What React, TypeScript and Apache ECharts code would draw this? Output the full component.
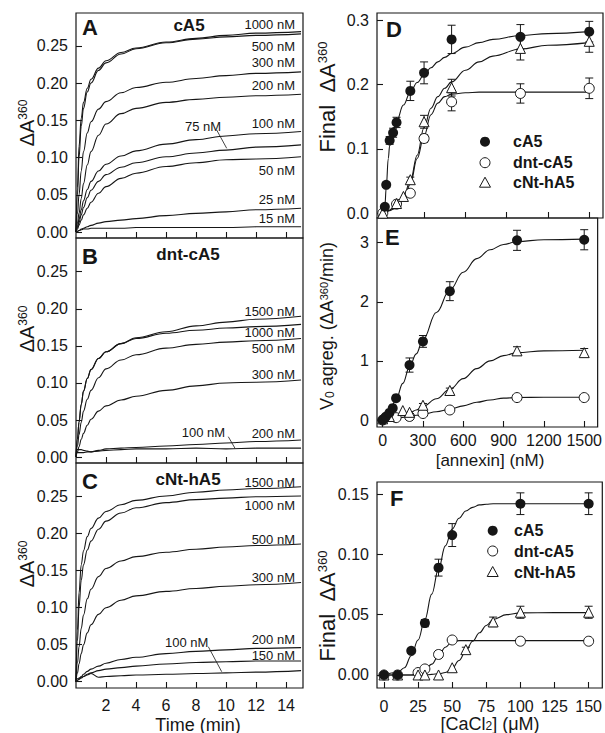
import React, { useEffect, useRef } from 'react';
import * as echarts from 'echarts';

const FONT = '"Liberation Sans", Arial, Helvetica, sans-serif';
const INK = '#161616';

// ---------- Panels A-C : kinetic traces ----------
const TIME = [0, 0.1, 0.2, 0.35, 0.5, 0.75, 1, 1.5, 2, 3, 4, 6, 8, 10, 12, 15];

const A1000 = [0, 0.06, 0.115, 0.153, 0.174, 0.193, 0.205, 0.22, 0.23, 0.241, 0.247, 0.255, 0.26, 0.264, 0.267, 0.269];
const A500 = [0, 0.05, 0.1, 0.142, 0.166, 0.188, 0.2, 0.217, 0.227, 0.239, 0.246, 0.254, 0.259, 0.262, 0.264, 0.266];
const A300 = [0, 0.025, 0.05, 0.082, 0.108, 0.133, 0.148, 0.165, 0.175, 0.187, 0.194, 0.201, 0.206, 0.21, 0.213, 0.215];
const A200 = [0, 0.012, 0.025, 0.045, 0.065, 0.09, 0.108, 0.13, 0.145, 0.159, 0.166, 0.174, 0.178, 0.181, 0.183, 0.185];
const A100 = [0, 0.008, 0.017, 0.03, 0.042, 0.057, 0.068, 0.082, 0.091, 0.102, 0.109, 0.118, 0.124, 0.129, 0.132, 0.135];
const A75 = [0, 0.006, 0.013, 0.023, 0.033, 0.046, 0.056, 0.068, 0.077, 0.087, 0.093, 0.101, 0.106, 0.11, 0.114, 0.117];
const A50 = [0, 0.004, 0.009, 0.016, 0.023, 0.032, 0.04, 0.052, 0.061, 0.072, 0.079, 0.088, 0.093, 0.097, 0.098, 0.101];
const A25 = [0, 0.001, 0.002, 0.004, 0.005, 0.007, 0.009, 0.012, 0.014, 0.016, 0.018, 0.022, 0.025, 0.027, 0.03, 0.032];
const A15 = [0, 0.001, 0.002, 0.003, 0.004, 0.004, 0.005, 0.005, 0.005, 0.005, 0.006, 0.006, 0.006, 0.006, 0.007, 0.007];

const B1500 = [0, 0.025, 0.047, 0.071, 0.089, 0.106, 0.118, 0.133, 0.142, 0.153, 0.161, 0.169, 0.177, 0.182, 0.186, 0.19];
const B1000 = [0, 0.025, 0.047, 0.071, 0.089, 0.106, 0.118, 0.133, 0.142, 0.153, 0.16, 0.167, 0.171, 0.174, 0.176, 0.179];
const B500 = [0, 0.015, 0.03, 0.047, 0.062, 0.078, 0.09, 0.107, 0.119, 0.131, 0.138, 0.147, 0.152, 0.155, 0.157, 0.16];
const B300 = [0, 0.007, 0.014, 0.024, 0.032, 0.043, 0.051, 0.062, 0.069, 0.077, 0.082, 0.09, 0.096, 0.1, 0.101, 0.104];
const B200 = [0.01, 0.01, 0.01, 0.01, 0.009, 0.008, 0.007, 0.009, 0.011, 0.012, 0.013, 0.015, 0.017, 0.019, 0.021, 0.023];
const B100 = [0.006, 0.006, 0.006, 0.006, 0.006, 0.007, 0.007, 0.008, 0.009, 0.01, 0.011, 0.011, 0.012, 0.011, 0.012, 0.012];

const C1500 = [0, 0.07, 0.12, 0.158, 0.177, 0.196, 0.207, 0.221, 0.23, 0.239, 0.245, 0.251, 0.256, 0.259, 0.261, 0.2635];
const C1000 = [0, 0.055, 0.1, 0.137, 0.158, 0.178, 0.19, 0.206, 0.217, 0.228, 0.235, 0.242, 0.246, 0.248, 0.25, 0.251];
const C500 = [0, 0.025, 0.047, 0.072, 0.09, 0.112, 0.125, 0.142, 0.153, 0.163, 0.169, 0.175, 0.179, 0.182, 0.184, 0.186];
const C300 = [0, 0.012, 0.024, 0.038, 0.05, 0.066, 0.077, 0.091, 0.1, 0.11, 0.116, 0.122, 0.126, 0.129, 0.131, 0.134];
const C200 = [0, 0.002, 0.004, 0.007, 0.01, 0.014, 0.017, 0.021, 0.025, 0.03, 0.033, 0.038, 0.041, 0.043, 0.045, 0.046];
const C150 = [0, 0.002, 0.003, 0.005, 0.007, 0.01, 0.012, 0.015, 0.017, 0.019, 0.021, 0.024, 0.026, 0.027, 0.028, 0.028];
const C100 = [0.004, 0.004, 0.005, 0.006, 0.007, 0.009, 0.011, 0.006, 0.007, 0.008, 0.009, 0.01, 0.011, 0.012, 0.013, 0.015];

const TIME_TICKS = [2, 4, 6, 8, 10, 12, 14];
const ABS_TICKS = [0, 0.05, 0.1, 0.15, 0.2, 0.25];

// ---------- Panel D : final ΔA360 vs [annexin] ----------
const D_CA5_X = [15, 25, 50, 75, 100, 200, 300, 500, 1000, 1500];
const D_CA5_Y = [0.01, 0.044, 0.113, 0.125, 0.141, 0.19, 0.218, 0.27, 0.274, 0.282];
const D_CA5_E = [0.003, 0.004, 0.006, 0.007, 0.008, 0.015, 0.017, 0.022, 0.019, 0.016];
const D_DNT_X = [0, 100, 200, 300, 500, 1000, 1500];
const D_DNT_Y = [0, 0.014, 0.031, 0.116, 0.173, 0.186, 0.194];
const D_DNT_E = [0, 0, 0.004, 0.006, 0.014, 0.015, 0.016];
const D_CNT_X = [0, 100, 150, 200, 300, 500, 1000, 1500];
const D_CNT_Y = [0, 0.015, 0.026, 0.052, 0.142, 0.195, 0.256, 0.267];
const D_CNT_E = [0, 0, 0, 0.004, 0.01, 0.013, 0.018, 0.017];

const D_FIT_X = [0, 15, 25, 40, 50, 75, 100, 150, 200, 250, 300, 350, 400, 450, 500, 600, 700, 800, 1000, 1200, 1500];
const D_FIT_CA5 = [0, 0.01, 0.04, 0.085, 0.105, 0.128, 0.143, 0.168, 0.188, 0.203, 0.215, 0.226, 0.235, 0.242, 0.248, 0.258, 0.265, 0.27, 0.276, 0.279, 0.282];
const D_FIT_DNT = [0, 0.001, 0.002, 0.003, 0.004, 0.006, 0.009, 0.02, 0.045, 0.085, 0.12, 0.153, 0.171, 0.181, 0.185, 0.187, 0.188, 0.188, 0.188, 0.188, 0.188];
const D_FIT_CNT = [0, 0.001, 0.002, 0.004, 0.005, 0.008, 0.012, 0.025, 0.05, 0.09, 0.133, 0.163, 0.181, 0.194, 0.204, 0.222, 0.235, 0.244, 0.255, 0.261, 0.265];

// ---------- Panel E : V0 vs [annexin] ----------
const E_CA5_X = [0, 15, 25, 50, 75, 100, 200, 300, 500, 1000, 1500];
const E_CA5_Y = [0, 0.03, 0.06, 0.12, 0.2, 0.37, 0.93, 1.33, 2.18, 3.04, 3.05];
const E_CA5_E = [0, 0, 0, 0.02, 0.03, 0.04, 0.12, 0.1, 0.16, 0.17, 0.17];
const E_DNT_X = [0, 100, 200, 300, 500, 1000, 1500];
const E_DNT_Y = [0, 0.04, 0.06, 0.11, 0.17, 0.38, 0.38];
const E_DNT_E = [0, 0, 0, 0, 0, 0.02, 0.02];
const E_CNT_X = [0, 50, 150, 200, 300, 500, 1000, 1500];
const E_CNT_Y = [0.02, 0.06, 0.16, 0.13, 0.25, 0.5, 1.17, 1.14];
const E_CNT_E = [0, 0, 0, 0, 0.03, 0.04, 0.07, 0.07];

const E_FIT_X = [0, 50, 100, 150, 200, 250, 300, 400, 500, 600, 700, 800, 900, 1000, 1200, 1500];
const E_FIT_CA5 = [0, 0.13, 0.35, 0.62, 0.9, 1.12, 1.36, 1.82, 2.2, 2.5, 2.73, 2.88, 2.97, 3.02, 3.05, 3.06];
const E_FIT_CNT = [0, 0.02, 0.05, 0.08, 0.12, 0.17, 0.23, 0.36, 0.52, 0.7, 0.87, 1.0, 1.09, 1.14, 1.17, 1.18];
const E_FIT_DNT = [0, 0.015, 0.03, 0.045, 0.06, 0.08, 0.1, 0.14, 0.18, 0.24, 0.3, 0.34, 0.37, 0.38, 0.385, 0.385];

const ANNEXIN_TICKS = [0, 300, 600, 900, 1200, 1500];
const D_TICKS = [0, 0.1, 0.2, 0.3];
const E_TICKS = [0, 1, 2, 3];

// ---------- Panel F : final ΔA360 vs [CaCl2] ----------
const F_CA5_X = [0, 10, 20, 30, 40, 50, 100, 150];
const F_CA5_Y = [0, 0, 0.02, 0.043, 0.089, 0.116, 0.142, 0.142];
const F_CA5_E = [0, 0, 0.002, 0.003, 0.007, 0.0095, 0.009, 0.009];
const F_DNT_X = [0, 10, 25, 30, 40, 50, 100, 150];
const F_DNT_Y = [0, 0, 0.002, 0.005, 0.017, 0.029, 0.028, 0.028];
const F_DNT_E = [0, 0, 0, 0, 0.002, 0.002, 0.002, 0.002];
const F_CNT_X = [0, 10, 25, 30, 40, 50, 60, 80, 100, 150];
const F_CNT_Y = [0, 0, 0, 0, 0, 0.006, 0.021, 0.044, 0.052, 0.052];
const F_CNT_E = [0, 0, 0, 0, 0, 0, 0.002, 0.004, 0.005, 0.005];

const F_FIT_X = [0, 10, 15, 20, 25, 30, 35, 40, 45, 50, 55, 60, 65, 70, 75, 80, 90, 100, 125, 150];
const F_FIT_CA5 = [0, 0.002, 0.006, 0.016, 0.029, 0.046, 0.067, 0.088, 0.107, 0.121, 0.13, 0.136, 0.139, 0.141, 0.1415, 0.142, 0.142, 0.142, 0.142, 0.142];
const F_FIT_DNT = [0, 0, 0, 0, 0.001, 0.004, 0.009, 0.016, 0.023, 0.0275, 0.0285, 0.0285, 0.0285, 0.0285, 0.0285, 0.0285, 0.0285, 0.0285, 0.0285, 0.0285];
const F_FIT_CNT = [0, 0, 0, 0, 0, 0, 0.0005, 0.001, 0.002, 0.0055, 0.012, 0.02, 0.028, 0.035, 0.041, 0.046, 0.05, 0.0515, 0.0517, 0.0517];

const CACL_TICKS = [0, 25, 50, 75, 100, 125, 150];
const F_TICKS = [0, 0.05, 0.1, 0.15];

// ---------- helpers ----------
const pairs = (xs: number[], ys: number[]) => xs.map((x, i) => [x, ys[i]]);

function lineSeries(idx: number, xs: number[], ys: number[], width = 1.1) {
  return {
    type: 'line',
    xAxisIndex: idx,
    yAxisIndex: idx,
    data: pairs(xs, ys),
    smooth: 0.4,
    smoothMonotone: 'x',
    showSymbol: false,
    symbol: 'none',
    silent: true,
    lineStyle: { color: INK, width },
    z: 2,
  };
}

function errSeries(idx: number, xs: number[], ys: number[], es: number[]) {
  return {
    type: 'custom',
    xAxisIndex: idx,
    yAxisIndex: idx,
    silent: true,
    z: 3,
    data: xs.map((x, i) => [x, ys[i], es[i]]),
    encode: { x: 0, y: 1 },
    renderItem: (params: any, api: any) => {
      const x = api.value(0);
      const y = api.value(1);
      const e = api.value(2);
      if (!e) return { type: 'group', children: [] };
      const t = api.coord([x, y + e]);
      const b = api.coord([x, y - e]);
      const w = 4;
      const st = { stroke: INK, lineWidth: 1 };
      return {
        type: 'group',
        children: [
          { type: 'line', shape: { x1: t[0], y1: t[1], x2: b[0], y2: b[1] }, style: st },
          { type: 'line', shape: { x1: t[0] - w, y1: t[1], x2: t[0] + w, y2: t[1] }, style: st },
          { type: 'line', shape: { x1: b[0] - w, y1: b[1], x2: b[0] + w, y2: b[1] }, style: st },
        ],
      };
    },
  };
}

function markerSeries(idx: number, name: string, kind: 'filled' | 'open' | 'tri', xs: number[], ys: number[]) {
  return {
    type: 'scatter',
    name,
    xAxisIndex: idx,
    yAxisIndex: idx,
    data: pairs(xs, ys),
    symbol: kind === 'tri' ? 'triangle' : 'circle',
    symbolSize: 10,
    itemStyle:
      kind === 'filled'
        ? { color: INK, opacity: 1 }
        : { color: '#ffffff', borderColor: INK, borderWidth: 1, opacity: 1 },
    silent: true,
    z: kind === 'filled' ? 6 : kind === 'tri' ? 5 : 4,
  };
}

function grid(left: number, top: number, width: number, height: number) {
  return {
    left, top, width, height,
    show: true,
    borderColor: INK,
    borderWidth: 1.2,
    backgroundColor: 'transparent',
    containLabel: false,
  };
}

function axis(gridIndex: number, min: number, max: number, ticks: number[], showLabels: boolean, fmt: (v: number) => string, margin = 8) {
  return {
    type: 'value',
    gridIndex,
    min,
    max,
    axisLine: { show: false, onZero: false },
    splitLine: { show: false },
    axisTick: {
      show: true,
      inside: true,
      length: 6,
      lineStyle: { color: INK, width: 1.1 },
      customValues: ticks,
    },
    axisLabel: {
      show: showLabels,
      customValues: ticks,
      formatter: fmt,
      fontSize: 16,
      lineHeight: 14,
      color: INK,
      fontFamily: FONT,
      margin,
    },
  };
}

const txt = (x: number, y: number, text: string, size: number, align = 'left', bold = false, lh?: number) => ({
  type: 'text',
  x,
  y,
  silent: true,
  style: {
    text,
    fontSize: size,
    fontFamily: FONT,
    fontWeight: bold ? 'bold' : 'normal',
    fill: INK,
    align,
    verticalAlign: 'middle',
    lineHeight: lh ?? Math.round(size * 1.05),
  },
});

const lab = (x: number, y: number, text: string, align = 'right') => txt(x, y, text, 13, align, false, 11);

const richText = (x: number, y: number, text: string, rich: any, rotate = false) => ({
  type: 'text',
  x,
  y,
  rotation: rotate ? Math.PI / 2 : 0,
  silent: true,
  style: {
    text,
    rich,
    fontFamily: FONT,
    fill: INK,
    align: 'center',
    verticalAlign: 'middle',
  },
});

const RICH_A = {
  m: { fontSize: 20, fontFamily: FONT, color: INK },
  p: { fontSize: 12, fontFamily: FONT, color: INK, verticalAlign: 'top' },
};
const RICH_FINAL = {
  m: { fontSize: 22, fontFamily: FONT, color: INK },
  p: { fontSize: 13, fontFamily: FONT, color: INK, verticalAlign: 'top' },
};
const RICH_E = {
  m: { fontSize: 18, fontFamily: FONT, color: INK },
  p: { fontSize: 11, fontFamily: FONT, color: INK, verticalAlign: 'top' },
  b: { fontSize: 12, fontFamily: FONT, color: INK, verticalAlign: 'bottom' },
};
const RICH_X = {
  m: { fontSize: 18, fontFamily: FONT, color: INK, lineHeight: 16 },
  b: { fontSize: 12, fontFamily: FONT, color: INK, verticalAlign: 'bottom', lineHeight: 12 },
};

const leader = (x1: number, y1: number, x2: number, y2: number) => ({
  type: 'line',
  silent: true,
  shape: { x1, y1, x2, y2 },
  style: { stroke: INK, lineWidth: 0.8 },
});

const legendSym = (x: number, y: number, kind: 'filled' | 'open' | 'tri') =>
  kind === 'tri'
    ? {
        type: 'polygon',
        silent: true,
        shape: { points: [[x, y - 5.5], [x + 5.5, y + 4.5], [x - 5.5, y + 4.5]] },
        style: { fill: '#fff', stroke: INK, lineWidth: 1 },
      }
    : {
        type: 'circle',
        silent: true,
        shape: { cx: x, cy: y, r: 5 },
        style: kind === 'filled' ? { fill: INK } : { fill: '#fff', stroke: INK, lineWidth: 1 },
      };

const f2 = (v: number) => v.toFixed(2);
const f1 = (v: number) => v.toFixed(1);
const f0 = (v: number) => String(Math.round(v));

export default function App() {
  const ref = useRef<HTMLDivElement>(null);

  useEffect(() => {
    if (!ref.current) return;
    const chart = echarts.init(ref.current, null, { renderer: 'svg' });

    const T_MAX = 15.13;
    const option: any = {
      animation: false,
      backgroundColor: '#ffffff',
      textStyle: { fontFamily: FONT, color: INK },
      grid: [
        grid(76, 13, 227, 225),
        grid(76, 238, 227, 225),
        grid(76, 463, 227, 225),
        grid(377, 13, 226, 205),
        grid(377, 218, 226, 209),
        grid(377, 482, 226, 206),
      ],
      xAxis: [
        axis(0, 0, T_MAX, TIME_TICKS, false, f0),
        axis(1, 0, T_MAX, TIME_TICKS, false, f0),
        axis(2, 0, T_MAX, TIME_TICKS, true, f0, 10),
        axis(3, -42, 1600, ANNEXIN_TICKS, false, f0),
        axis(4, -42, 1600, ANNEXIN_TICKS, true, f0, 6),
        axis(5, -5.1, 160, CACL_TICKS, true, f0, 11),
      ],
      yAxis: [
        axis(0, -0.008, 0.294, ABS_TICKS, true, f2),
        axis(1, -0.008, 0.2955, ABS_TICKS, true, f2),
        axis(2, -0.0085, 0.2955, ABS_TICKS, true, f2),
        axis(3, -0.0075, 0.311, D_TICKS, true, f1),
        axis(4, -0.118, 3.418, E_TICKS, true, f0),
        axis(5, -0.0108, 0.16, F_TICKS, true, f2),
      ],
      series: [
        ...[A1000, A500, A300, A200, A100, A75, A50, A25, A15].map((ys) => lineSeries(0, TIME, ys)),
        ...[B1500, B1000, B500, B300, B200, B100].map((ys) => lineSeries(1, TIME, ys)),
        ...[C1500, C1000, C500, C300, C200, C150, C100].map((ys) => lineSeries(2, TIME, ys)),

        lineSeries(3, D_FIT_X, D_FIT_CA5),
        lineSeries(3, D_FIT_X, D_FIT_DNT),
        lineSeries(3, D_FIT_X, D_FIT_CNT),
        errSeries(3, D_DNT_X, D_DNT_Y, D_DNT_E),
        errSeries(3, D_CNT_X, D_CNT_Y, D_CNT_E),
        errSeries(3, D_CA5_X, D_CA5_Y, D_CA5_E),
        markerSeries(3, 'dnt-cA5', 'open', D_DNT_X, D_DNT_Y),
        markerSeries(3, 'cNt-hA5', 'tri', D_CNT_X, D_CNT_Y),
        markerSeries(3, 'cA5', 'filled', D_CA5_X, D_CA5_Y),

        lineSeries(4, E_FIT_X, E_FIT_CA5),
        lineSeries(4, E_FIT_X, E_FIT_DNT),
        lineSeries(4, E_FIT_X, E_FIT_CNT),
        errSeries(4, E_DNT_X, E_DNT_Y, E_DNT_E),
        errSeries(4, E_CNT_X, E_CNT_Y, E_CNT_E),
        errSeries(4, E_CA5_X, E_CA5_Y, E_CA5_E),
        markerSeries(4, 'dnt-cA5', 'open', E_DNT_X, E_DNT_Y),
        markerSeries(4, 'cNt-hA5', 'tri', E_CNT_X, E_CNT_Y),
        markerSeries(4, 'cA5', 'filled', E_CA5_X, E_CA5_Y),

        lineSeries(5, F_FIT_X, F_FIT_CA5),
        lineSeries(5, F_FIT_X, F_FIT_DNT),
        lineSeries(5, F_FIT_X, F_FIT_CNT),
        errSeries(5, F_DNT_X, F_DNT_Y, F_DNT_E),
        errSeries(5, F_CNT_X, F_CNT_Y, F_CNT_E),
        errSeries(5, F_CA5_X, F_CA5_Y, F_CA5_E),
        markerSeries(5, 'dnt-cA5', 'open', F_DNT_X, F_DNT_Y),
        markerSeries(5, 'cNt-hA5', 'tri', F_CNT_X, F_CNT_Y),
        markerSeries(5, 'cA5', 'filled', F_CA5_X, F_CA5_Y),
      ],
      graphic: {
        elements: [
          // Panel A
          txt(82, 27, 'A', 22, 'left', true),
          txt(189, 25, 'cA5', 17, 'center', true),
          lab(295, 24, '1000 nM'),
          lab(295, 46.7, '500 nM'),
          lab(295, 62.7, '300 nM'),
          lab(295, 85.7, '200 nM'),
          lab(295, 123.3, '100 nM'),
          lab(185, 126, '75 nM', 'left'),
          leader(216.7, 130, 226.7, 148.3),
          lab(295, 170.7, '50 nM'),
          lab(295, 199, '25 nM'),
          lab(295, 218.3, '15 nM'),
          // Panel B
          txt(82, 256, 'B', 22, 'left', true),
          txt(188, 254, 'dnt-cA5', 17, 'center', true),
          lab(295, 311, '1500 nM'),
          lab(295, 332.5, '1000 nM'),
          lab(295, 348.5, '500 nM'),
          lab(295, 374.3, '300 nM'),
          lab(181.7, 432.3, '100 nM', 'left'),
          leader(228.3, 436.7, 235, 448.3),
          lab(295, 433.3, '200 nM'),
          // Panel C
          txt(82, 481.7, 'C', 22, 'left', true),
          txt(188, 479, 'cNt-hA5', 17, 'center', true),
          lab(295, 482.3, '1500 nM'),
          lab(295, 505, '1000 nM'),
          lab(295, 539, '500 nM'),
          lab(295, 577.3, '300 nM'),
          lab(165, 642.3, '100 nM', 'left'),
          leader(208.3, 646.7, 221.7, 671.7),
          lab(295, 639.5, '200 nM'),
          lab(295, 655.5, '150 nM'),
          // left axis names
          richText(27, 123, '{m|ΔA}{p|360}', RICH_A, true),
          richText(27, 329, '{m|ΔA}{p|360}', RICH_A, true),
          richText(27, 564, '{m|ΔA}{p|360}', RICH_A, true),
          txt(198, 724.5, 'Time (min)', 18, 'center', false, 16),
          // Panel D
          txt(386, 29, 'D', 22, 'left', true),
          legendSym(485, 141.7, 'filled'),
          legendSym(485, 162.7, 'open'),
          legendSym(485, 182.7, 'tri'),
          txt(513, 141.7, 'cA5', 16, 'left', true),
          txt(513, 162.7, 'dnt-cA5', 16, 'left', true),
          txt(513, 182.7, 'cNt-hA5', 16, 'left', true),
          richText(327, 97, '{m|Final  ΔA}{p|360}', RICH_FINAL, true),
          // Panel E
          txt(385, 237.5, 'E', 22, 'left', true),
          richText(327, 326, '{m|V}{b|0}{m| agreg. (ΔA}{p|360}{m|/min)}', RICH_E, true),
          txt(490, 460, '[annexin] (nM)', 17, 'center', false, 15),
          // Panel F
          txt(390, 498, 'F', 22, 'left', true),
          legendSym(492.7, 530.7, 'filled'),
          legendSym(492.7, 551, 'open'),
          legendSym(492.7, 572, 'tri'),
          txt(514, 530.7, 'cA5', 16, 'left', true),
          txt(514, 551, 'dnt-cA5', 16, 'left', true),
          txt(514, 572, 'cNt-hA5', 16, 'left', true),
          richText(327, 606, '{m|Final  ΔA}{p|360}', RICH_FINAL, true),
          richText(490, 724, '{m|[CaCl}{b|2}{m|] (μM)}', RICH_X, false),
        ],
      },
    };

    chart.setOption(option);
    return () => chart.dispose();
  }, []);

  return (
    <div
      ref={ref}
      style={{ position: 'absolute', left: 0, top: 0, width: 605, height: 733, background: '#fff' }}
    />
  );
}
